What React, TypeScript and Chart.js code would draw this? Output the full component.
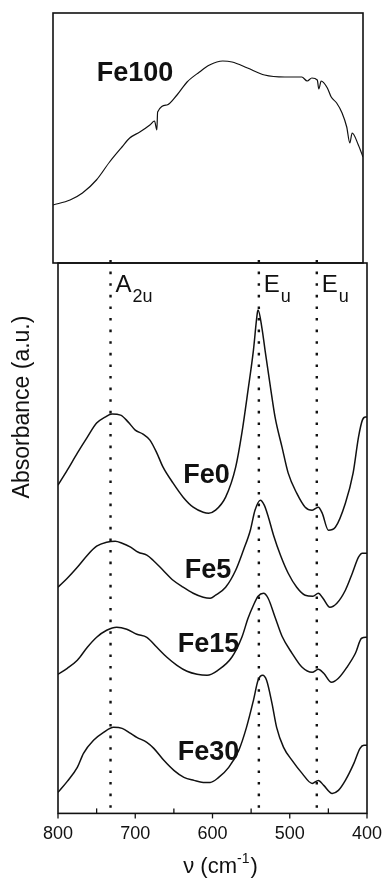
import React, { useEffect, useRef } from "react";
import { Chart, registerables } from "chart.js";

Chart.register(...registerables);

const FONT = "'Liberation Sans', Arial, Helvetica, sans-serif";
const INK = "#111111";

// ---- Top panel: Fe100 ----
const fe100Wavenumber = [800, 778, 762, 744, 727, 711, 701, 688, 675, 669, 666, 665, 653, 640, 627, 611, 598, 581, 569, 549, 527, 501, 479, 472, 466, 459, 457, 454, 446, 441, 434, 427, 421, 417, 414, 406, 400];
const fe100Absorbance = [0.58, 0.63, 0.70, 0.83, 1.01, 1.16, 1.25, 1.31, 1.38, 1.42, 1.33, 1.51, 1.58, 1.68, 1.81, 1.91, 1.98, 2.02, 2.01, 1.95, 1.88, 1.86, 1.86, 1.82, 1.85, 1.83, 1.74, 1.82, 1.75, 1.66, 1.60, 1.50, 1.36, 1.20, 1.30, 1.18, 1.06];

// ---- Bottom panel ----
const fe0Wavenumber = [800, 788, 775, 762, 750, 739, 730, 719, 709, 700, 690, 681, 672, 664, 651, 638, 625, 612, 605, 596, 583, 570, 562, 554, 547, 542, 541, 536, 532, 525, 519, 510, 502, 491, 480, 471, 463, 458, 450, 441, 428, 418, 411, 406, 402, 400];
const fe0Absorbance = [3.28, 3.43, 3.60, 3.76, 3.90, 3.96, 3.99, 3.98, 3.91, 3.83, 3.79, 3.73, 3.60, 3.46, 3.30, 3.16, 3.06, 3.01, 3.00, 3.03, 3.16, 3.46, 3.80, 4.23, 4.63, 5.00, 5.03, 4.85, 4.63, 4.26, 3.96, 3.66, 3.40, 3.20, 3.06, 3.03, 3.06, 3.00, 2.83, 2.86, 3.10, 3.40, 3.76, 3.93, 3.96, 3.96];

const fe5Wavenumber = [800, 788, 775, 762, 750, 737, 726, 717, 706, 696, 685, 677, 664, 651, 638, 625, 612, 603, 596, 583, 570, 560, 551, 545, 538, 533, 528, 521, 512, 502, 491, 480, 470, 463, 457, 448, 439, 428, 419, 411, 406, 400];
const fe5Absorbance = [2.26, 2.35, 2.46, 2.58, 2.67, 2.71, 2.72, 2.70, 2.66, 2.61, 2.58, 2.53, 2.43, 2.33, 2.26, 2.20, 2.16, 2.15, 2.18, 2.26, 2.43, 2.63, 2.83, 3.03, 3.13, 3.08, 2.97, 2.78, 2.58, 2.40, 2.26, 2.18, 2.17, 2.20, 2.15, 2.06, 2.10, 2.23, 2.40, 2.56, 2.60, 2.60];

const fe15Wavenumber = [800, 788, 775, 762, 750, 737, 724, 711, 698, 685, 672, 659, 646, 633, 620, 607, 593, 575, 562, 554, 547, 541, 534, 528, 519, 510, 497, 484, 471, 463, 456, 446, 437, 426, 415, 407, 400];
const fe15Absorbance = [1.39, 1.45, 1.53, 1.66, 1.76, 1.83, 1.86, 1.84, 1.79, 1.76, 1.66, 1.56, 1.48, 1.42, 1.39, 1.38, 1.43, 1.56, 1.76, 1.95, 2.08, 2.17, 2.20, 2.15, 1.96, 1.77, 1.60, 1.46, 1.41, 1.44, 1.40, 1.31, 1.35, 1.46, 1.60, 1.75, 1.76];

const fe30Wavenumber = [800, 788, 775, 767, 754, 741, 728, 717, 706, 698, 685, 676, 663, 650, 637, 624, 612, 603, 592, 579, 566, 556, 547, 541, 535, 530, 523, 517, 508, 497, 484, 471, 463, 456, 445, 437, 428, 417, 409, 404, 400];
const fe30Absorbance = [0.21, 0.32, 0.46, 0.60, 0.73, 0.81, 0.86, 0.85, 0.80, 0.76, 0.71, 0.65, 0.53, 0.43, 0.36, 0.33, 0.31, 0.31, 0.36, 0.46, 0.63, 0.86, 1.13, 1.33, 1.38, 1.33, 1.10, 0.86, 0.66, 0.53, 0.40, 0.30, 0.33, 0.28, 0.20, 0.23, 0.33, 0.50, 0.65, 0.68, 0.68];

// ---- Labels ----
const topLabelName = "Fe100";
const topLabelAt = [743.5, 1.89];

const sampleNames = ["Fe0", "Fe5", "Fe15", "Fe30"];
const sampleLabelX = [638, 636, 645, 645];
const sampleLabelY = [3.38, 2.43, 1.69, 0.61];

const bandPositions = [732, 540, 465];
const bandMain = ["A", "E", "E"];
const bandSub = ["2u", "u", "u"];

const xMin = 400;
const xMax = 800;
const xStep = 50;
const xTitleMain = "ν (cm";
const xTitleSup = "-1";
const xTitleEnd = ")";
const yTitle = "Absorbance (a.u.)";

const toPoints = (xs: number[], ys: number[]) => xs.map((x, i) => ({ x, y: ys[i] }));

const lineStyle = (width: number) => ({
  borderColor: INK,
  borderWidth: width,
  pointRadius: 0,
  fill: false,
  cubicInterpolationMode: "monotone" as const,
});

const topPlugin = {
  id: "topDecor",
  afterDraw(chart: any) {
    const { ctx, chartArea: a, scales } = chart;
    ctx.save();
    ctx.strokeStyle = INK;
    ctx.lineWidth = 1.6;
    ctx.strokeRect(a.left, a.top, a.right - a.left, a.bottom - a.top);
    ctx.fillStyle = INK;
    ctx.font = `bold 27px ${FONT}`;
    ctx.textAlign = "left";
    ctx.textBaseline = "middle";
    ctx.fillText(topLabelName, scales.x.getPixelForValue(topLabelAt[0]), scales.y.getPixelForValue(topLabelAt[1]));
    ctx.restore();
  },
};

const bottomPlugin = {
  id: "bottomDecor",
  beforeDatasetsDraw(chart: any) {
    const { ctx, chartArea: a, scales } = chart;
    ctx.save();
    ctx.strokeStyle = INK;
    ctx.lineWidth = 2.4;
    ctx.setLineDash([2.6, 9]);
    bandPositions.forEach((v) => {
      const px = scales.x.getPixelForValue(v);
      ctx.beginPath();
      ctx.moveTo(px, a.top - 3);
      ctx.lineTo(px, a.bottom - 2);
      ctx.stroke();
    });
    ctx.restore();
  },
  afterDraw(chart: any) {
    const { ctx, chartArea: a, scales } = chart;
    const x = scales.x;
    const y = scales.y;
    ctx.save();
    ctx.strokeStyle = INK;
    ctx.lineWidth = 1.6;
    ctx.strokeRect(a.left, a.top, a.right - a.left, a.bottom - a.top);

    // ticks: major outward, minor inward
    ctx.lineWidth = 1.3;
    x.ticks.forEach((t: any) => {
      const px = x.getPixelForValue(t.value);
      const major = t.value % 100 === 0;
      ctx.beginPath();
      if (major) {
        ctx.moveTo(px, a.bottom);
        ctx.lineTo(px, a.bottom + 5);
      } else {
        ctx.moveTo(px, a.bottom);
        ctx.lineTo(px, a.bottom - 5);
      }
      ctx.stroke();
    });

    ctx.fillStyle = INK;
    // band labels
    bandPositions.forEach((v, i) => {
      const px = x.getPixelForValue(v) + 5;
      const base = a.top + 29;
      ctx.font = `24px ${FONT}`;
      ctx.textAlign = "left";
      ctx.textBaseline = "alphabetic";
      ctx.fillText(bandMain[i], px, base);
      const w = ctx.measureText(bandMain[i]).width;
      ctx.font = `18px ${FONT}`;
      ctx.fillText(bandSub[i], px + w + 1, base + 10);
    });

    // sample labels
    ctx.font = `bold 27px ${FONT}`;
    ctx.textAlign = "left";
    ctx.textBaseline = "middle";
    sampleNames.forEach((n, i) => {
      ctx.fillText(n, x.getPixelForValue(sampleLabelX[i]), y.getPixelForValue(sampleLabelY[i]));
    });

    // x title
    ctx.textBaseline = "alphabetic";
    ctx.font = `22px ${FONT}`;
    const w1 = ctx.measureText(xTitleMain).width;
    ctx.font = `14px ${FONT}`;
    const w2 = ctx.measureText(xTitleSup).width;
    ctx.font = `22px ${FONT}`;
    const w3 = ctx.measureText(xTitleEnd).width;
    const total = w1 + w2 + w3 + 1;
    const cx = (a.left + a.right) / 2 + 8;
    let sx = cx - total / 2;
    const baseY = a.bottom + 60;
    ctx.fillText(xTitleMain, sx, baseY);
    sx += w1;
    ctx.font = `14px ${FONT}`;
    ctx.fillText(xTitleSup, sx, baseY - 10);
    sx += w2 + 1;
    ctx.font = `22px ${FONT}`;
    ctx.fillText(xTitleEnd, sx, baseY);

    // y title
    ctx.save();
    ctx.translate(23, 157);
    ctx.rotate(-Math.PI / 2);
    ctx.font = `23px ${FONT}`;
    ctx.textAlign = "center";
    ctx.textBaseline = "middle";
    ctx.fillText(yTitle, 0, 0);
    ctx.restore();

    ctx.restore();
  },
};

export default function App() {
  const topRef = useRef<HTMLCanvasElement | null>(null);
  const bottomRef = useRef<HTMLCanvasElement | null>(null);

  useEffect(() => {
    if (!topRef.current || !bottomRef.current) return;
    const top = new Chart(topRef.current, {
      type: "line",
      data: {
        datasets: [{ label: topLabelName, data: toPoints(fe100Wavenumber, fe100Absorbance), ...lineStyle(1.2) }],
      },
      options: {
        animation: false,
        responsive: false,
        events: [],
        layout: { padding: { left: 53, right: 21, top: 13, bottom: 1 } },
        plugins: { legend: { display: false }, tooltip: { enabled: false } },
        scales: {
          x: { type: "linear", min: xMin, max: xMax, reverse: true, display: false },
          y: { type: "linear", min: 0, max: 2.5, display: false },
        },
      },
      plugins: [topPlugin],
    } as any);

    const bottom = new Chart(bottomRef.current, {
      type: "line",
      data: {
        datasets: [
          { label: sampleNames[0], data: toPoints(fe0Wavenumber, fe0Absorbance), ...lineStyle(1.5) },
          { label: sampleNames[1], data: toPoints(fe5Wavenumber, fe5Absorbance), ...lineStyle(1.5) },
          { label: sampleNames[2], data: toPoints(fe15Wavenumber, fe15Absorbance), ...lineStyle(1.5) },
          { label: sampleNames[3], data: toPoints(fe30Wavenumber, fe30Absorbance), ...lineStyle(1.5) },
        ],
      },
      options: {
        animation: false,
        responsive: false,
        events: [],
        layout: { padding: { left: 58, right: 17, top: 13, bottom: 32 } },
        plugins: { legend: { display: false }, tooltip: { enabled: false } },
        scales: {
          x: {
            type: "linear",
            min: xMin,
            max: xMax,
            reverse: true,
            grid: { display: false, drawTicks: true, tickLength: 9 },
            border: { display: false },
            ticks: {
              stepSize: xStep,
              autoSkip: false,
              maxRotation: 0,
              padding: 1,
              color: INK,
              font: { family: FONT, size: 18 },
              callback: (v: any) => (Number(v) % 100 === 0 ? String(v) : ""),
            },
          },
          y: { type: "linear", min: 0, max: 5.5, display: false },
        },
      },
      plugins: [bottomPlugin],
    } as any);

    return () => {
      top.destroy();
      bottom.destroy();
    };
  }, []);

  return (
    <div style={{ position: "fixed", left: 0, top: 0, width: 384, height: 878, background: "#fff", overflow: "hidden" }}>
      <canvas ref={topRef} width={384} height={264} style={{ position: "absolute", left: 0, top: 0, display: "block" }} />
      <canvas ref={bottomRef} width={384} height={628} style={{ position: "absolute", left: 0, top: 250, display: "block" }} />
    </div>
  );
}
